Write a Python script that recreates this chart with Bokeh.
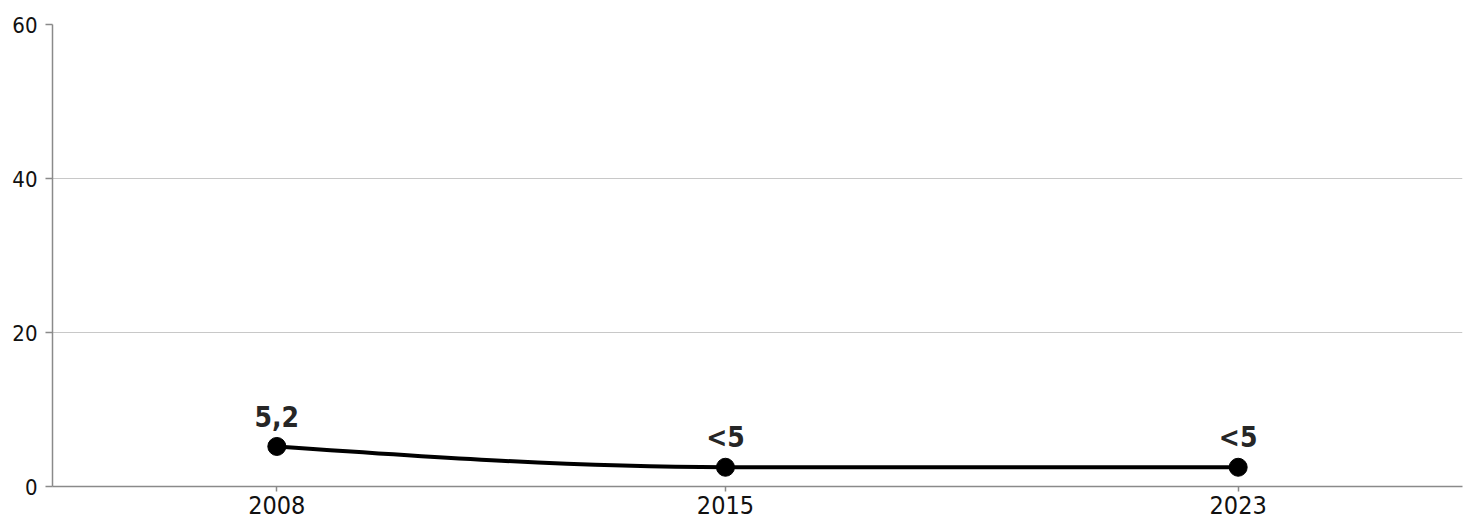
from bokeh.plotting import figure
from bokeh.models import Range1d, FixedTicker, ColumnDataSource
from bokeh.core.properties import value
from bokeh.embed import file_html
from bokeh.resources import INLINE

years = [2008, 2015, 2023]
values = [5.2, 2.5, 2.5]
labels = ["5,2", "<5", "<5"]
y_ticks = [0, 20, 40, 60]

FONT = "DejaVu Sans Condensed, Liberation Sans Narrow, DejaVu Sans"

p = figure(width=1469, height=521, output_backend="svg", toolbar_location=None,
           x_range=Range1d(2004.5, 2026.5), y_range=Range1d(0, 60),
           min_border_left=52, min_border_right=7, min_border_top=24, min_border_bottom=35)
p.outline_line_color = None
p.background_fill_color = "white"

p.xgrid.grid_line_color = None
p.ygrid.grid_line_color = "#c8c8c8"
p.ygrid.grid_line_width = 1

p.yaxis.ticker = FixedTicker(ticks=y_ticks)
p.xaxis.ticker = FixedTicker(ticks=years)
p.yaxis.minor_tick_line_color = None
p.xaxis.minor_tick_line_color = None
for ax in (p.xaxis, p.yaxis):
    ax.axis_line_color = "#8a8a8a"
    ax.axis_line_width = 1.5
    ax.major_tick_line_color = "#8a8a8a"
    ax.major_tick_line_width = 1.5
    ax.major_tick_out = 7
    ax.major_tick_in = 0
    ax.major_label_text_font = FONT
    ax.major_label_text_color = "#111111"
p.yaxis.major_label_text_font_size = "22px"
p.yaxis.major_label_standoff = 8
p.xaxis.major_label_text_font_size = "25px"
p.xaxis.major_label_standoff = 4
p.xaxis.major_tick_out = 5

# monotone-x cubic curve built from the data
n = len(years)
h = [years[i + 1] - years[i] for i in range(n - 1)]
s = [(values[i + 1] - values[i]) / h[i] for i in range(n - 1)]
sgn = lambda v: -1 if v < 0 else 1
t = [0.0] * n
for i in range(1, n - 1):
    pp = (s[i - 1] * h[i] + s[i] * h[i - 1]) / (h[i - 1] + h[i])
    t[i] = (sgn(s[i - 1]) + sgn(s[i])) * min(abs(s[i - 1]), abs(s[i]), 0.5 * abs(pp)) or 0.0
t[0] = (3 * s[0] - t[1]) / 2
t[-1] = (3 * s[-1] - t[-2]) / 2
bz = dict(x0=[], y0=[], x1=[], y1=[], cx0=[], cy0=[], cx1=[], cy1=[])
for i in range(n - 1):
    d = h[i] / 3
    bz["x0"].append(years[i]); bz["y0"].append(values[i])
    bz["x1"].append(years[i + 1]); bz["y1"].append(values[i + 1])
    bz["cx0"].append(years[i] + d); bz["cy0"].append(values[i] + d * t[i])
    bz["cx1"].append(years[i + 1] - d); bz["cy1"].append(values[i + 1] - d * t[i + 1])
p.bezier(source=ColumnDataSource(bz), x0="x0", y0="y0", x1="x1", y1="y1",
         cx0="cx0", cy0="cy0", cx1="cx1", cy1="cy1", line_color="black", line_width=4)

src = ColumnDataSource(dict(x=years, y=values, label=labels))
p.scatter("x", "y", source=src, size=18, fill_color="black", line_color="black")
p.text("x", "y", text="label", source=src, text_align="center", text_baseline="alphabetic",
       y_offset=-30, text_font=value(FONT), text_font_size="28px", text_font_style="bold",
       text_color="#262626")

open("out.html", "w").write(file_html(p, INLINE))
